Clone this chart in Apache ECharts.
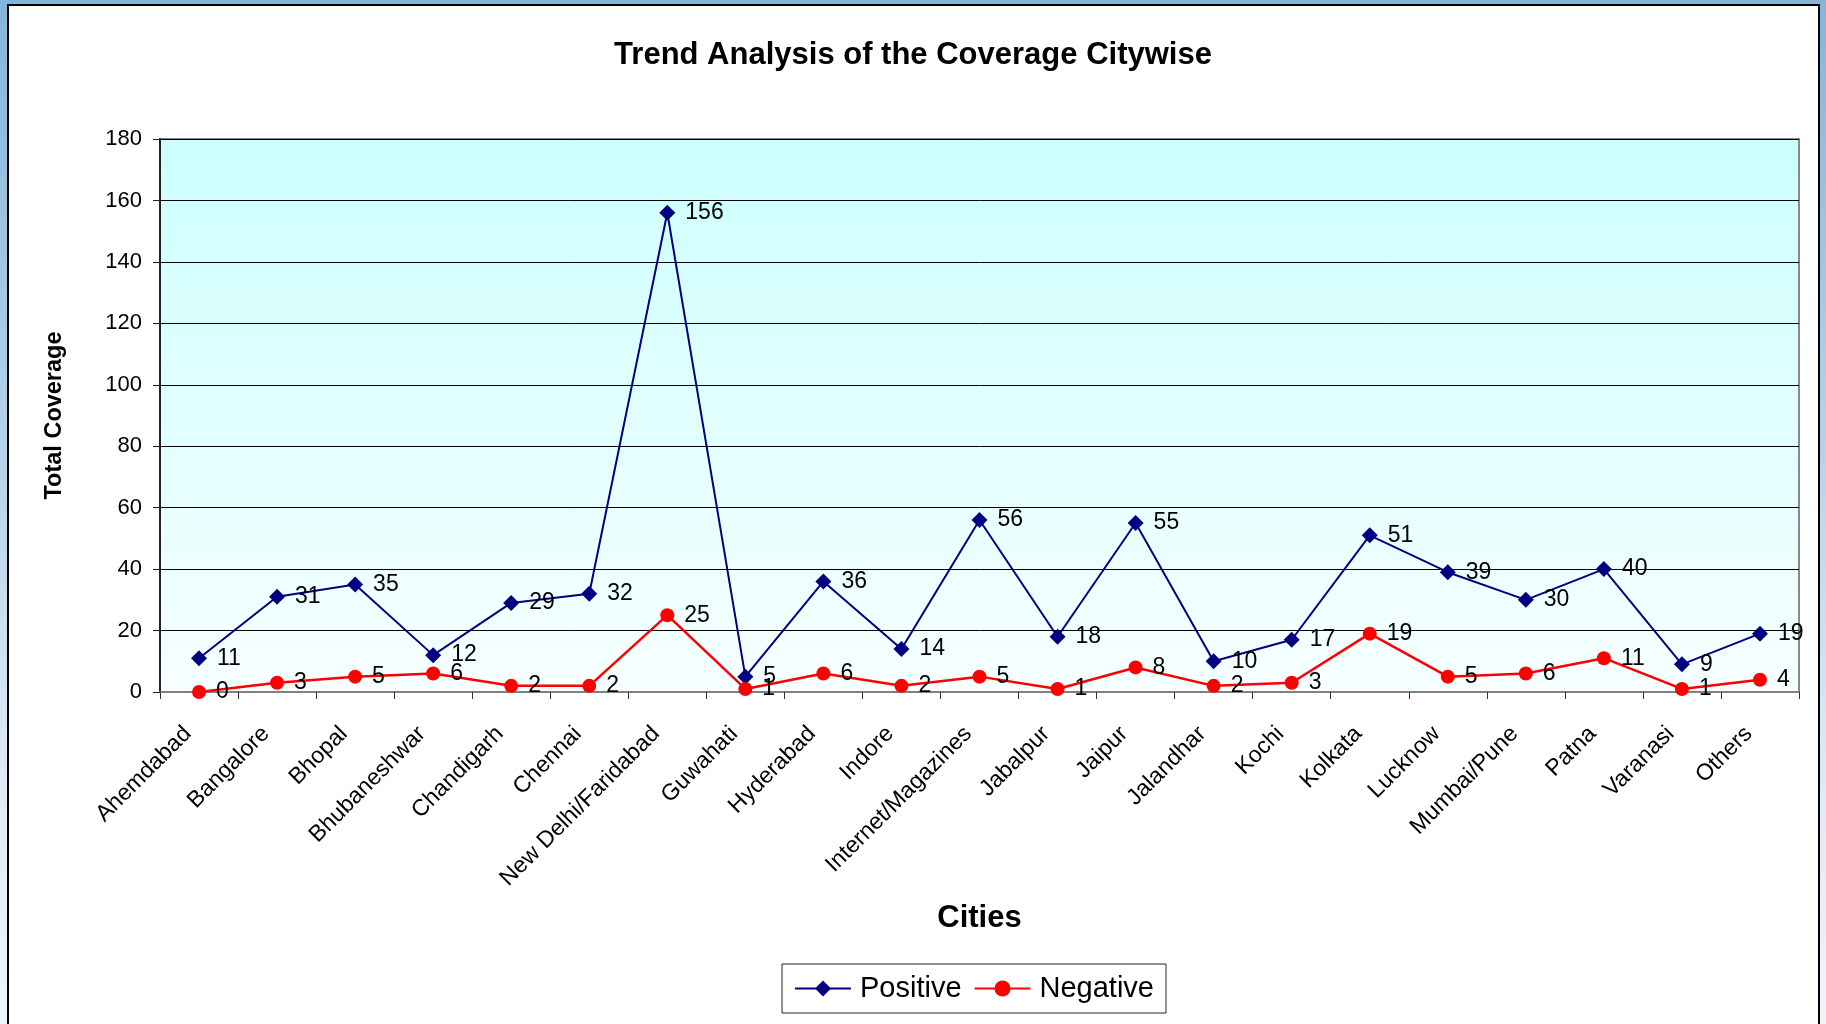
<!DOCTYPE html>
<html><head><meta charset="utf-8">
<script src="https://cdn.jsdelivr.net/npm/echarts@6/dist/echarts.min.js"></script>
<style>
html,body{margin:0;padding:0;width:1826px;height:1024px;overflow:hidden;
background:linear-gradient(to bottom,#84b5d9 0%,#a6c9e4 30%,#dce9f4 75%,#f0f5fa 100%);}
#panel{position:absolute;left:7px;top:4px;width:1813px;height:1100px;background:#fff;border:2px solid #000;box-sizing:border-box}
#chart{position:absolute;left:0;top:0;width:1826px;height:1024px}
</style></head><body><div id="panel"></div><div id="chart"></div>
<script>
const categories = ["Ahemdabad","Bangalore","Bhopal","Bhubaneshwar","Chandigarh","Chennai","New Delhi/Faridabad","Guwahati","Hyderabad","Indore","Internet/Magazines","Jabalpur","Jaipur","Jalandhar","Kochi","Kolkata","Lucknow","Mumbai/Pune","Patna","Varanasi","Others"];
const positive = [11,31,35,12,29,32,156,5,36,14,56,18,55,10,17,51,39,30,40,9,19];
const negative = [0,3,5,6,2,2,25,1,6,2,5,1,8,2,3,19,5,6,11,1,4];
const yMin = 0, yMax = 180, yStep = 20;

const FONT = "'Liberation Sans', Arial, sans-serif";
const chart = echarts.init(document.getElementById('chart'), null, {renderer:'canvas'});
const labelCfg = {show:true, position:'right', distance:10, color:'#000', fontSize:23, fontFamily:FONT};
chart.setOption({
  backgroundColor:'transparent',
  animation:false,
  textStyle:{fontFamily:FONT},
  title:{text:'Trend Analysis of the Coverage Citywise', left:'center', top:35,
    textStyle:{fontSize:31, fontWeight:'bold', color:'#000', fontFamily:FONT}},
  grid:{left:160, top:139, right:27, bottom:332, show:true,
    backgroundColor:{type:'linear',x:0,y:0,x2:0,y2:1,colorStops:[{offset:0,color:'#ccffff'},{offset:1,color:'#f7ffff'}]},
    borderColor:'#888', borderWidth:2},
  legend:{left:782, top:964, orient:'horizontal', padding:[10,12,10,12], itemGap:12,
    itemWidth:56, itemHeight:20, borderColor:'#222', borderWidth:1, backgroundColor:'#fff',
    textStyle:{fontSize:29, color:'#000', fontFamily:FONT, padding:[0,0,0,4]},
    data:['Positive','Negative']},
  xAxis:{type:'category', data:categories, boundaryGap:true,
    name:'Cities', nameLocation:'middle', nameGap:211,
    nameTextStyle:{fontSize:31, fontWeight:'bold', color:'#000', fontFamily:FONT},
    axisLine:{lineStyle:{color:'#808080', width:2}},
    axisTick:{show:true, length:7, lineStyle:{color:'#333', width:1}},
    axisLabel:{rotate:45, interval:0, margin:27, padding:[0,16,0,0], fontSize:23, color:'#000', fontFamily:FONT},
    splitLine:{show:false}},
  yAxis:{type:'value', min:yMin, max:yMax, interval:yStep,
    name:'Total Coverage', nameLocation:'middle', nameGap:93,
    nameTextStyle:{fontSize:23.5, fontWeight:'bold', color:'#000', fontFamily:FONT},
    axisLine:{show:true, lineStyle:{color:'#222', width:2}},
    axisTick:{show:true, length:7, lineStyle:{color:'#222', width:1}},
    axisLabel:{margin:18, fontSize:22, color:'#000', fontFamily:FONT},
    splitLine:{show:true, lineStyle:{color:'#000', width:1}}},
  series:[
    {name:'Positive', type:'line', data:positive, symbol:'diamond', symbolSize:16,
      itemStyle:{color:'#000080'}, lineStyle:{color:'#000080', width:2}, label:labelCfg, z:3},
    {name:'Negative', type:'line', data:negative, symbol:'circle', symbolSize:14,
      itemStyle:{color:'#ff0000'}, lineStyle:{color:'#ff0000', width:2.5}, label:labelCfg, z:4}
  ]
});
</script></body></html>
